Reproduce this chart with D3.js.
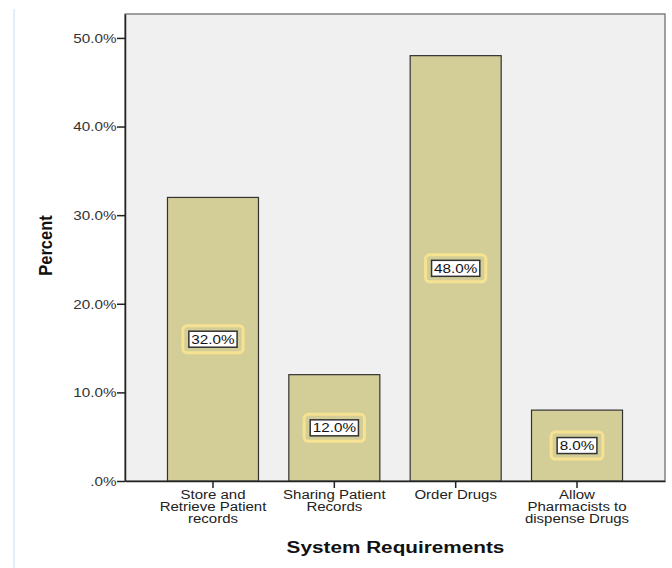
<!DOCTYPE html>
<html><head><meta charset="utf-8">
<script src="https://cdn.jsdelivr.net/npm/d3@7"></script>
<style>body{margin:0;background:#fff}svg{display:block;font-family:"Liberation Sans",Arial,sans-serif}</style>
</head><body>
<script>
const categories = [
  ["Store and","Retrieve Patient","records"],
  ["Sharing Patient","Records"],
  ["Order Drugs"],
  ["Allow","Pharmacists to","dispense Drugs"]
];
const values = [32, 12, 48, 8];
const yTicks = [0, 10, 20, 30, 40, 50];
const yTickLabels = [".0%", "10.0%", "20.0%", "30.0%", "40.0%", "50.0%"];
const xTitle = "System Requirements";
const yTitle = "Percent";

const W = 672, H = 568;
const L = 125, R = 665, T = 14, B = 481;
const K = 1.22; // horizontal stretch of text
const FONT = '"Liberation Sans",Arial,sans-serif';
const svg = d3.select("body").append("svg").attr("width", W).attr("height", H);

svg.append("rect").attr("x", 13).attr("y", 9).attr("width", 2).attr("height", 559).attr("fill", "#e3eef9");

const x = d3.scaleBand().domain(d3.range(values.length)).range([L, R]).paddingInner(0.25).paddingOuter(0.35);
const y = d3.scaleLinear().domain([0, 52.7]).range([B, T]);

svg.append("rect").attr("x", L).attr("y", T).attr("width", R - L).attr("height", B - T)
  .attr("fill", "#f0f0f0").attr("stroke", "#666").attr("stroke-width", 1.2);

svg.selectAll("rect.bar").data(values).join("rect").attr("class", "bar")
  .attr("x", (d, i) => x(i)).attr("y", d => y(d))
  .attr("width", x.bandwidth()).attr("height", d => B - y(d))
  .attr("fill", "#d3ce98").attr("stroke", "#333").attr("stroke-width", 1.2);

// axes
const yAxis = svg.append("g").attr("transform", `translate(${L},0)`)
  .call(d3.axisLeft(y).tickValues(yTicks).tickSize(8).tickSizeOuter(0).tickFormat((d, i) => yTickLabels[i]));
yAxis.select(".domain").attr("stroke", "#222").attr("stroke-width", 1.5);
yAxis.selectAll(".tick line").attr("stroke", "#222").attr("stroke-width", 1.5);
yAxis.selectAll(".tick text").attr("font-size", 12.5).attr("fill", "#333").attr("x", -8.5 / K)
  .attr("dy", "0.35em").attr("font-family", FONT).attr("transform", `scale(${K},1)`);

const xAxis = svg.append("g").attr("transform", `translate(0,${B})`)
  .call(d3.axisBottom(x).tickSize(7).tickSizeOuter(0).tickFormat(""));
xAxis.select(".domain").attr("stroke", "#222").attr("stroke-width", 1.5);
xAxis.selectAll(".tick line").attr("stroke", "#222").attr("stroke-width", 1.5);

// category labels
categories.forEach((lines, i) => {
  const t = svg.append("text").attr("text-anchor", "middle").attr("font-size", 12).attr("fill", "#222")
    .attr("transform", `translate(${x(i) + x.bandwidth() / 2},0) scale(${K + 0.03},1)`);
  lines.forEach((ln, j) => {
    t.append("tspan").attr("x", 0).attr("y", 499 + j * 12).text(ln);
  });
});

// value labels
values.forEach((v, i) => {
  const cx = x(i) + x.bandwidth() / 2, cy = y(v / 2);
  const label = v.toFixed(1) + "%";
  const g = svg.append("g");
  const glow = g.append("rect");
  const box = g.append("rect");
  const t = g.append("text").attr("text-anchor", "middle").attr("font-size", 12.5).attr("fill", "#111")
    .attr("transform", `translate(${cx},${cy + 4.5}) scale(${K},1)`).text(label);
  const tw = t.node().getComputedTextLength() * K + 5;
  glow.attr("x", cx - tw / 2 - 6).attr("y", cy - 13.5).attr("width", tw + 12).attr("height", 27)
    .attr("rx", 4).attr("fill", "none").attr("stroke", "#f6e291").attr("stroke-width", 3);
  box.attr("x", cx - tw / 2).attr("y", cy - 8).attr("width", tw).attr("height", 16)
    .attr("fill", "#fff").attr("stroke", "#333").attr("stroke-width", 1.5);
});

svg.append("text").attr("transform", `translate(395.5,553) scale(${K},1)`).attr("text-anchor", "middle")
  .attr("font-size", 17).attr("font-weight", "bold").attr("fill", "#111").text(xTitle);
svg.append("text").attr("transform", "translate(52,245.5) scale(1.12,1) rotate(-90)").attr("text-anchor", "middle")
  .attr("font-size", 16.5).attr("font-weight", "bold").attr("fill", "#111").text(yTitle);
</script>
</body></html>
